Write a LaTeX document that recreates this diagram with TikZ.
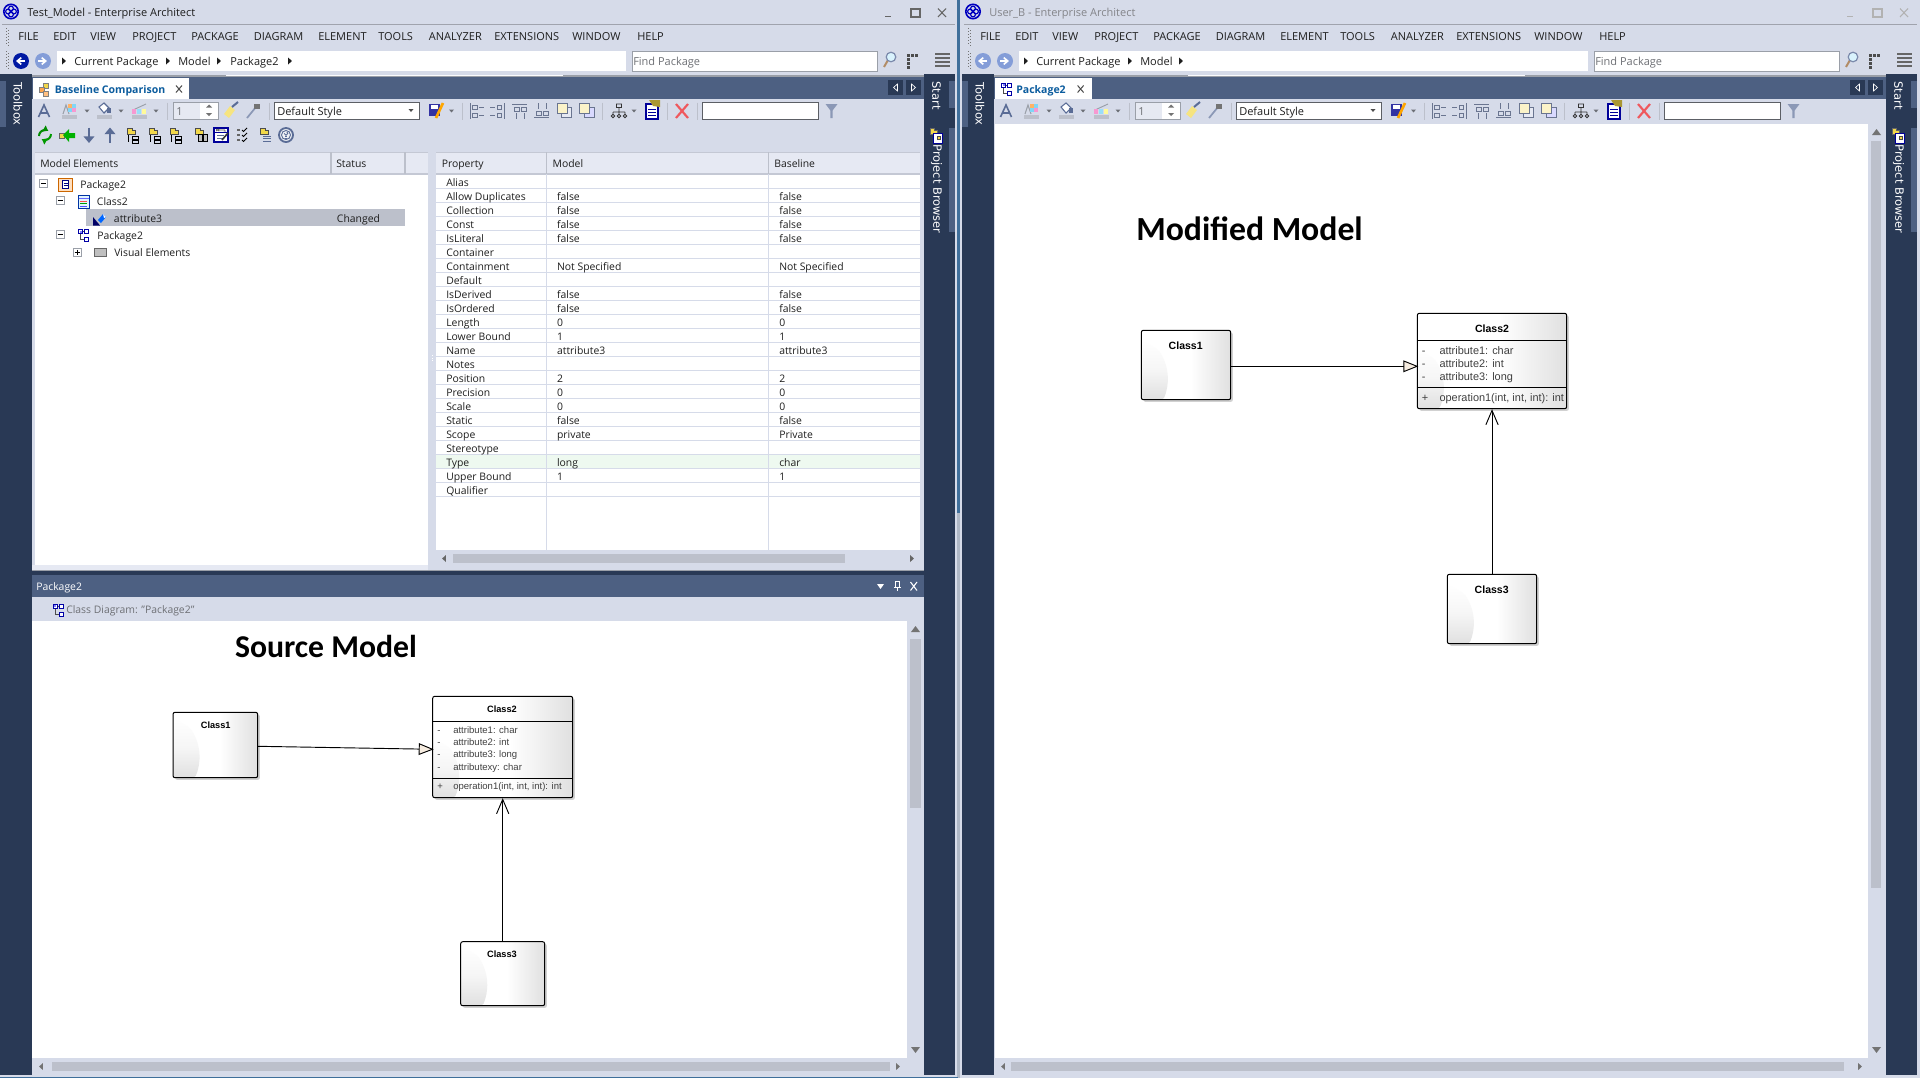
\documentclass[tikz,border=0pt]{standalone}
\usepackage{fontspec}
\setmainfont{Open Sans}
\newfontfamily\clsfont{Liberation Sans}
\newfontfamily\ttlfont{Carlito}
\newfontfamily\sidefont{DejaVu Sans}
\usetikzlibrary{calc,arrows.meta,shadows}
\definecolor{uibg}{HTML}{D6DBE9}
\definecolor{uidark}{HTML}{293955}
\definecolor{uitab}{HTML}{4D6082}
\definecolor{uihead}{HTML}{E6E9F3}
\definecolor{uisel}{HTML}{BCC0CB}
\definecolor{uiline}{HTML}{9A9FA8}
\definecolor{uitext}{HTML}{1E1E1E}
\definecolor{uigray}{HTML}{6E7075}
\definecolor{tabblue}{HTML}{0B5C9E}
\definecolor{iconblue}{HTML}{5A6C96}
\definecolor{icongray}{HTML}{6A7590}
\definecolor{boxgray}{HTML}{E0E0E0}
\definecolor{cream}{HTML}{F6ECE0}
\definecolor{typegreen}{HTML}{EEF9F0}
\definecolor{edgeblue}{HTML}{3F6F9B}
\definecolor{folderyel}{HTML}{F2D84A}
\newcount\tcnt
\newcommand\lbl[4][]{\global\advance\tcnt by 1
  \node[ui,anchor=base west,#1] (t\the\tcnt) at (#2,#3+4) {#4};}
\newcommand\clbl[4][]{\global\advance\tcnt by 1
  \node[anchor=center,inner sep=0pt,#1] (t\the\tcnt) at (#2,#3) {#4};}
\newcommand\ico[3]{\begin{scope}[shift={(#1,#2)}]#3\end{scope}}
% small arrows
\newcommand\tdown[2]{\fill[uiline!70!black] (#1-2.5,#2-1.5) -- (#1+2.5,#2-1.5) -- (#1,#2+1.5) -- cycle;}
\newcommand\tright[3][uitext]{\fill[#1] (#2-1.8,#3-3.5) -- (#2+1.8,#3) -- (#2-1.8,#3+3.5) -- cycle;}
\newcommand\tleft[3][uitext]{\fill[#1] (#2+1.8,#3-3.5) -- (#2-1.8,#3) -- (#2+1.8,#3+3.5) -- cycle;}
\newcommand\vsep[2]{\draw[uisel,line width=.75pt] (#1,#2-8.5) -- (#1,#2+8.5);}
% icons in local pixels
\newcommand\diagicon{%
  \draw[black!70,line width=.5pt] (-3,-4) -- (3,-4) (-3,-4) -- (-3,4) -- (3,4);
  \foreach \p/\q in {-5/-6,1/-6,1/2}{\draw[draw=blue!65!black,fill=white,line width=.6pt] (\p,\q) rectangle +(4,4);}
  \fill[blue!50] (-4,-5) rectangle +(2,2);}
\newcommand\folder{%
  \draw[black!70,fill=folderyel,line width=.4pt] (-4,-7) -- (1,-7) -- (1,-5) -- (4,-5) -- (4,-1) -- (-4,-1) -- cycle;}
\newcommand\plusbox[3]{%
  \draw[uiline,fill=white,line width=.5pt] (#1-4,#2-4) rectangle (#1+4,#2+4);
  \draw[black,line width=.5pt] (#1-2.5,#2) -- (#1+2.5,#2);
  \ifnum#3=1 \draw[black,line width=.5pt] (#1,#2-2.5) -- (#1,#2+2.5);\fi}
\newcommand\winctl[1]{%
  \draw[#1,line width=1pt] (885,16.5) -- (891,16.5);
  \draw[#1,line width=.9pt] (911,9) rectangle (920,17);
  \draw[#1,line width=.8pt] (938,8.5) -- (946,17) (946,8.5) -- (938,17);}
\newcommand\grip[2]{\foreach \g in {0,3,...,15}{\fill[black!55] (#1,#2+\g) rectangle +(1.2,1.2);\fill[black!55] (#1+2,#2+\g+1.5) rectangle +(1.2,1.2);}}
\newcommand\aligngl[1]{%
  \draw[icongray,line width=.6pt] #1;}
\newcommand\winbase{%
  % chrome lines
  \draw[uisel!85!black,line width=.75pt] (2,24) -- (955,24);
  \grip{6}{28}\grip{6}{51}
  \foreach \x/\t in {18/FILE,53/EDIT,90/VIEW,132/PROJECT,191/PACKAGE,253.5/DIAGRAM,318/ELEMENT,378/TOOLS,428.6/ANALYZER,494/EXTENSIONS,572/WINDOW,637/HELP}{\lbl[font=\uimenu]{\x}{36}{\t}}
  % address row
  \fill[white] (57,51) rectangle (626,71);
  \draw[uiline,fill=white,line width=.75pt] (632,51) rectangle (877,71);
  \lbl[text=uigray]{633}{61}{Find Package}
  \ico{889}{60}{\draw[orange!50!black!60,line width=1.5pt] (-5,7) -- (-1,0);\draw[iconblue!80,fill=cyan!15,line width=.9pt] (2,-3) circle (4.8);}
  \ico{912}{60}{\foreach \p/\q in {-5/-6,-1/-6,3/-6,-5/-2,-5/2,-5/6}{\fill[black!70] (\p,\q) rectangle +(2.6,2.6);}}
  \foreach \q in {54,58,62,66}{\fill[black!60] (935,\q-.8) rectangle (950,\q+1.4);}
  % dark strips
  \fill[uidark] (0,74) rectangle (32,1075);
  \fill[uidark] (924,74) rectangle (955,1075);
  \fill[uitab] (0,81) rectangle (6,127);
  \fill[uitab] (949,81) rectangle (955,108);
  \fill[uitab] (949,128) rectangle (955,232);
  \fill[uiline] (32,74.5) rectangle (924,77);
  \fill[white!90!uibg] (226,74.7) rectangle (563,75.7);
  \clbl[rotate=-90,font=\uiside,text=white]{18}{104}{Toolbox}
  \clbl[rotate=-90,font=\uiside,text=white]{936.5}{95.5}{Start}
  \clbl[rotate=-90,font=\uiside,text=white]{936.5}{189}{Project Browser}
  \ico{933}{131}{\draw[black!60,fill=folderyel,line width=.4pt] (-3,-3) -- (1,-3) -- (1,-1) -- (4,-1) -- (4,3) -- (-3,3) -- cycle;}
  \ico{938}{138}{\draw[blue!60!black,fill=white,line width=.6pt] (-4.5,-5) rectangle (4.5,5);\fill[black!70] (-1,-2) rectangle (3,2);\fill[folderyel] (0,-1) rectangle (2,1);}
  % tab bar
  \fill[uitab] (32,77) rectangle (924,99);
  \foreach \x in {888,906}{\fill[uidark] (\x,80) rectangle +(15,15);}
  \draw[white,line width=.5pt] (897.5,84) -- (893.5,87.5) -- (897.5,91) -- cycle;
  \draw[white,line width=.5pt] (911.5,84) -- (915.5,87.5) -- (911.5,91) -- cycle;
  % toolbar row one
  \draw[iconblue,line width=1.2pt] (38.5,117) -- (44,105) -- (49.5,117);\draw[iconblue,line width=.8pt] (40.5,113) -- (47.5,113);
  % font colour
  \draw[uiline,line width=.8pt] (63,114) -- (66,105) -- (69,114);
  \foreach \p/\q/\c in {68/104/orange!60,72/104/cyan!50,68/108/cyan!50,72/108/magenta!40}{\fill[\c] (\p,\q) rectangle +(3.6,3.6);}
  \fill[uisel] (62,115) rectangle (77,118.5);\tdown{87}{111}
  % fill colour
  \draw[iconblue,fill=white,line width=.8pt] (99,107) -- (104,103) -- (109,108) -- (104,113) -- cycle;
  \fill[iconblue] (107,108) rectangle (111,113);
  \fill[uisel] (97,115) rectangle (112,118.5);\tdown{121}{111}
  % line colour
  \draw[uiline,line width=.7pt] (133,110) -- (146,104);
  \foreach \p/\c in {132/magenta!40,137/cyan!40,142/yellow!40}{\fill[\c] (\p,109) rectangle +(4,5);}
  \fill[uisel] (132,115) rectangle (147,118.5);\tdown{156}{111}
  \vsep{167}{111}
  % spinner
  \draw[uiline,fill=uibg!60!white,line width=.6pt] (173,102) rectangle (218,119);
  \fill[white] (200,102.5) rectangle (217.6,118.5);
  \lbl[text=uigray]{176}{111}{1}
  \fill[black!55] (209,104.5) -- (212,107.5) -- (206,107.5) -- cycle;
  \fill[black!55] (209,116) -- (212,113) -- (206,113) -- cycle;
  % brush and dropper
  \fill[folderyel!70!white] (224,114) -- (230,106) -- (235,110) -- (229,118) -- cycle;
  \draw[iconblue,line width=1.5pt] (232,107) -- (238,102);
  \draw[iconblue!70,line width=1.3pt] (247,118) -- (256,107);
  \fill[black!55] (254,104) rectangle (260,109);
  \vsep{269}{111}
  \draw[uiline!60!black,fill=white,line width=.7pt] (274,102) rectangle (419,119);
  \lbl{277}{111.5}{Default Style}
  \fill[black!70] (408.5,109) -- (413.5,109) -- (411,112) -- cycle;
  % save
  \fill[blue!55!black!80] (429,104) rectangle (440,116);\fill[white] (431,105) rectangle (438,109);
  \draw[orange!70!yellow,line width=2pt] (436,118) -- (443,103);
  \tdown{451.5}{111}
  \vsep{462}{111}
  \aligngl{(470,103) -- (470,119) (472.5,105) rectangle (477,109.5) (472.5,113) rectangle (477,117.5) (479,107) -- (484,107) (479,115) -- (484,115)}
  \aligngl{(504,103) -- (504,119) (497,105) rectangle (501.5,109.5) (497,113) rectangle (501.5,117.5) (490,107) -- (495,107) (490,115) -- (495,115)}
  \aligngl{(512,104) -- (527,104) (514,107) rectangle (519,111) (521,107) rectangle (526,111) (516,113) -- (516,119) (524,113) -- (524,119)}
  \aligngl{(534,117.5) -- (549,117.5) (536,111) rectangle (541,115) (543,111) rectangle (548,115) (538,103) -- (538,109) (546,103) -- (546,109)}
  \draw[icongray,fill=uihead,line width=.7pt] (561,107) rectangle (571,117);
  \draw[icongray,fill=folderyel!30!white,line width=.7pt] (557,103) rectangle (567,113);
  \draw[icongray,fill=blue!15,line width=.7pt] (584,107) rectangle (594,117);
  \draw[icongray,fill=folderyel!30!white,line width=.7pt] (579,103) rectangle (589,113);
  \vsep{602}{111}
  \ico{619}{111}{\draw[black!80,line width=.7pt] (-2.5,-7) rectangle (2.5,-3.5) (0,-3.5) -- (0,1) (-6,1) -- (6,1) (-6,1) -- (-6,3) (0,1) -- (0,3) (6,1) -- (6,3) (-6,5) circle (1.8) (0,5) circle (1.8) (6,5) circle (1.8);}
  \tdown{634}{111}
  \draw[blue!60!black,fill=white,line width=.8pt] (646,104) rectangle (658,119);
  \foreach \q in {109,112,115}{\draw[blue!60!black,line width=.5pt] (648,\q) -- (656,\q);}
  \fill[folderyel!70!black] (649,100) -- (660,100) -- (660,107) -- (653,106) -- cycle;
  \vsep{667}{111}
  \draw[red!60!uibg,line width=1.6pt] (676,104) -- (688,118) (688,104) -- (676,118);
  \vsep{697}{111}
  \draw[uiline!60!black,fill=white,line width=.7pt] (702,102) rectangle (818,119);
  \fill[iconblue!70] (825.5,104) -- (837.5,104) -- (832.6,110.5) -- (832.6,118) -- (830.4,118) -- (830.4,110.5) -- cycle;
}
\tikzset{
  x=.75pt,y=-.75pt,
  ui/.style={inner sep=0pt,text=uitext,font=\uifont},
  nameL/.style={font=\clsfont\bfseries\fontsize{6.9}{8}\selectfont,text=black},
  nameR/.style={font=\clsfont\bfseries\fontsize{7.9}{9}\selectfont,text=black},
  attrL/.style={anchor=base west,font=\clsfont\fontsize{7.15}{8}\selectfont,text=black!75},
  attrR/.style={anchor=base west,font=\clsfont\fontsize{8.2}{9}\selectfont,text=black!75},
  cbox/.style 2 args={draw=black,line width=.75pt,rounded corners=1.5pt,fill=white,inner sep=0pt,
    minimum width=#1*.75pt,minimum height=#2*.75pt,
    drop shadow={shadow xshift=1.6pt,shadow yshift=-1.6pt,opacity=.18,fill=black},
    path picture={
      \coordinate (sw) at (path picture bounding box.south west);
      \shade[left color=white,right color=boxgray] ($(sw)+(.55*#1,0)$) rectangle (path picture bounding box.north east);
      \shade[top color=white,bottom color=boxgray,middle color=white!70!boxgray]
        ($(sw)+(22,0)$) .. controls ($(sw)+(28,-14)$) and ($(sw)+(29,-32)$) .. ($(sw)+(17,-50)$)
        -- ($(sw)+(0,-60)$) -- (sw) -- cycle;
    }},
  genline/.style={draw=black,line width=.7pt,-{Triangle[open,fill=cream,length=11.2pt,width=8.8pt]}},
  assocline/.style={draw=black,line width=.7pt,-{Straight Barb[length=10.8pt,width=9.2pt,line width=.7pt]}}
}
\newcommand\uifont{\fontsize{8.25}{10}\selectfont}
\newcommand\uimenu{\fontsize{8.25}{10}\selectfont}
\newcommand\uiside{\sidefont\fontsize{8.6}{10}\selectfont}
\begin{document}
\begin{tikzpicture}
\useasboundingbox (0,0) rectangle (1920,1078);
\fill[uibg] (0,0) rectangle (1920,1078);
% ---------- divider between the windows
\fill[edgeblue] (957,0) rectangle (960,513);
\fill[uisel!90!edgeblue] (957,513) rectangle (960,1078);
% ---------- left window
\winbase
\ico{11}{11.5}{\draw[blue!75!black,line width=1.2pt] (0,0) circle (7.2);\foreach \a in {0,90,180,270}{\draw[blue!75!black,line width=.9pt] (\a:3) circle (2.4);}}
\lbl{27}{12}{Test\_Model - Enterprise Architect}
\winctl{black!60}
\fill[blue!60!black!90!cyan] (21,61) circle (8);\draw[white,line width=1.2pt,-{Straight Barb[length=3pt,width=5pt]}] (25,61) -- (16,61);
\fill[cyan!40!blue!50!white] (43,61) circle (8);\draw[white,line width=1.2pt,-{Straight Barb[length=3pt,width=5pt]}] (38,61) -- (47,61);
\tright{64}{61}\lbl{74}{61}{Current Package}\tright{168}{61}\lbl{178}{61}{Model}\tright{219}{61}\lbl{230}{61}{Package2}\tright{290}{61}
% tab
\fill[white] (33,78) rectangle (189,99);
\ico{44}{89}{\draw[black!50,fill=folderyel,line width=.4pt] (-1,-6) rectangle (4,-1);\draw[black!50,fill=orange!70,line width=.4pt] (-5,-2) rectangle (0,3);\draw[black!50,fill=orange!50,line width=.4pt] (-1,2) rectangle (4,7);}
\lbl[text=tabblue,font=\uifont\bfseries\fontsize{7.9}{10}\selectfont]{54.5}{89}{Baseline Comparison}
\draw[black!70,line width=.75pt] (176,85.5) -- (182,92.5) (182,85.5) -- (176,92.5);
% toolbar row two
\ico{45}{135}{\draw[green!55!black,line width=1.5pt,-{Triangle[length=3.5pt,width=5pt]}] (-6,1) arc (180:300:6);\draw[green!60!black,line width=1.5pt,-{Triangle[length=3.5pt,width=5pt]}] (6,-1) arc (0:120:6);}
\ico{67}{135}{\draw[black!60,fill=folderyel,line width=.4pt] (-8,-2) rectangle (-3,3);\fill[green!70!black] (-4,0) -- (2,-6) -- (2,-2) -- (8,-2) -- (8,3) -- (2,3) -- (2,7) -- cycle;}
\draw[iconblue,line width=2pt,-{Triangle[length=5pt,width=8pt]}] (89,127.5) -- (89,143);
\draw[iconblue,line width=2pt,-{Triangle[length=5pt,width=8pt]}] (110,143) -- (110,127.5);
\foreach \x in {131,153,174}{\ico{\x}{135}{\folder\draw[black,line width=.7pt] (-3,0) -- (-3,7);\draw[black,line width=.7pt] (1,1) rectangle (7,4) (1,5) rectangle (7,8);}}
\ico{199}{135}{\folder\draw[black,fill=black!25,line width=.7pt] (-1,-1) rectangle (3,6) (4,-1) rectangle (8,6);}
\ico{221}{135}{\draw[blue!60!black,fill=white,line width=.8pt] (-7,-7) rectangle (7,7);\draw[blue!60!black,line width=.5pt] (-7,-3) -- (7,-3);\draw[black!70,line width=.5pt] (-5,-6) -- (-2,-4) (-5,-4) -- (-2,-6) (-1,-6) -- (-1,-4) (1,-6) -- (1,-4) (3,-6) -- (3,-4) -- (5,-4);\draw[iconblue,line width=.5pt] (-4,0) -- (3,0) (-4,3) -- (3,3);\draw[black!80,line width=1.2pt] (1,5) -- (7,-2);}
\ico{242}{135}{\foreach \q in {-6,-1,4}{\fill[black!60] (-5,\q) rectangle +(3,2);\draw[black,line width=.7pt] (0,\q+1) -- (1.5,\q+2.5) -- (5,\q-1);}}
\ico{264}{135}{\folder\foreach \q in {1,3.5,6}{\draw[iconblue,line width=.7pt] (-1,\q) -- (7,\q);}}
\ico{286}{135}{\draw[iconblue,fill=white!60!uibg,line width=1.4pt] (0,0) circle (7);\draw[iconblue,line width=.7pt] (0,0) circle (4.5);\fill[iconblue] (-.7,1) rectangle (.7,2.4);\fill[iconblue] (-.7,3) rectangle (.7,4);\draw[iconblue,line width=.7pt] (-1.8,-1.5) arc (180:-60:1.8);}
% left lists
\renewcommand\uifont{\fontsize{7.8}{10}\selectfont}
\fill[white] (35,174) rectangle (428,565);
\fill[uihead] (35,152) rectangle (428,174);
\fill[uihead] (32,565) rectangle (428,570);
\fill[uisel!70!uibg] (35,173.2) rectangle (428,174.5);
\fill[uisel!70!uibg] (35,151.5) rectangle (428,152.5);
\draw[uisel,line width=1pt] (331,152) -- (331,174) (405,152) -- (405,174);
\lbl{40}{163}{Model Elements}
\lbl{336}{163}{Status}
\foreach \q in {0,2.5,5}{\fill[white] (432,355+\q) rectangle +(1.4,1.4);}
% tree
\plusbox{43.6}{183.5}{0}
\ico{65.6}{184.5}{\draw[orange!80!black,fill=orange!25,line width=.7pt] (-7,-6.5) rectangle (7,6.5);\draw[blue!50!black,fill=white,line width=.5pt] (-3,-4) rectangle (3,4);\draw[blue!50!black,line width=.4pt] (-2,-1.5) -- (2,-1.5) (-2,1) -- (2,1);}
\lbl{80}{184}{Package2}
\plusbox{60}{200.5}{0}
\ico{83.5}{201.5}{\draw[blue!55!black!80!cyan,fill=cyan!12,line width=.7pt] (-5.5,-6.5) rectangle (5.5,6.5);\draw[blue!60,line width=.6pt] (-5,-3) -- (5,-3);\foreach \q/\c in {-.5/red!70,2/green!60!black,4.5/blue!70}{\draw[\c,line width=.6pt] (-3.5,\q) -- (3.5,\q);}}
\lbl{96.7}{201}{Class2}
\fill[uisel] (86,209) rectangle (405,226);
\ico{100}{220}{\fill[blue!40!black] (-7,-3) -- (0,5.5) -- (-7,5.5) -- cycle;\fill[blue!60!cyan] (-2,0) -- (3,-6) -- (6,-3) -- (1,3) -- cycle;\fill[white] (3,-6) -- (6,-3) -- (4,-2) -- cycle;}
\lbl{113.7}{218}{attribute3}
\lbl{336.7}{218}{Changed}
\plusbox{60}{234.5}{0}
\ico{83.5}{235.5}{\diagicon}
\lbl{97}{235}{Package2}
\plusbox{77}{252}{1}
\ico{100}{252}{\draw[black!60,fill=black!25,line width=.6pt] (-6,-4) rectangle (6,4);}
\lbl{114}{252}{Visual Elements}
% right grid
\fill[white] (436,174) rectangle (920,550);
\fill[uihead] (436,152) rectangle (920,174);
\fill[uisel!70!uibg] (436,173.2) rectangle (920,174.5);
\fill[uisel!70!uibg] (436,151.5) rectangle (920,152.5);
\fill[typegreen] (436,454) rectangle (920,468);
\foreach \i in {0,...,22}{\draw[uibg,line width=.75pt] (436,188.3+14*\i) -- (920,188.3+14*\i);}
\draw[uibg,line width=.75pt] (546.6,174) -- (546.6,550) (768.7,174) -- (768.7,550);
\draw[uisel,line width=1.1pt] (546.6,152) -- (546.6,174) (768.7,152) -- (768.7,174);
\lbl{441.5}{163}{Property}\lbl{552.4}{163}{Model}\lbl{774}{163}{Baseline}
\foreach \i/\t in {0/Alias,1/Allow Duplicates,2/Collection,3/Const,4/IsLiteral,5/Container,6/Containment,7/Default,8/IsDerived,9/IsOrdered,10/Length,11/Lower Bound,12/Name,13/Notes,14/Position,15/Precision,16/Scale,17/Static,18/Scope,19/Stereotype,20/Type,21/Upper Bound,22/Qualifier}{\lbl{446}{182.5+14*\i}{\t}}
\foreach \i/\m/\b in {1/false/false,2/false/false,3/false/false,4/false/false,6/Not Specified/Not Specified,8/false/false,9/false/false,10/0/0,11/1/1,12/attribute3/attribute3,14/2/2,15/0/0,16/0/0,17/false/false,18/private/Private,20/long/char,21/1/1}{\lbl{556.8}{182.5+14*\i}{\m}\lbl{779}{182.5+14*\i}{\b}}
\fill[uisel] (453,554) rectangle (845,563);
\tleft[black!60]{444}{558.5}\tright[black!60]{912}{558.5}
\fill[uiline] (32,570) rectangle (924,571.2);
\fill[uidark] (32,571.2) rectangle (924,575);
% lower panel
\fill[uitab] (32,575) rectangle (924,597);
\lbl[text=white]{36}{586}{Package2}
\fill[white] (877,584) -- (884,584) -- (880.5,589) -- cycle;
\draw[white,line width=.7pt] (895.5,581) rectangle (899.5,587) (894,587) -- (901,587) (897.5,587) -- (897.5,591);
\draw[white,line width=.8pt] (910.5,582) -- (917,590.5) (917,582) -- (910.5,590.5);
\ico{58}{610}{\diagicon}
\lbl[text=uigray]{66}{609.5}{Class Diagram: "Package2"}
\renewcommand\uifont{\fontsize{8.25}{10}\selectfont}
\fill[white] (32,621) rectangle (907,1058);
\fill[black!55] (911,632) -- (920,632) -- (915.5,626) -- cycle;
\fill[uisel] (910,639) rectangle (921,808);
\fill[black!55] (911,1047) -- (920,1047) -- (915.5,1053) -- cycle;
\fill[uisel] (52,1062) rectangle (890,1071);
\tleft[black!55]{41}{1066.5}\tright[black!55]{898}{1066.5}
\fill[edgeblue] (0,1076.6) rectangle (958,1078);
% left diagram
\clbl[font=\ttlfont\bfseries\fontsize{23.8}{28}\selectfont,text=black]{326}{646.5}{Source Model}
\node[cbox={84.7}{65.4}] (la) at (215.35,745) {};
\node[cbox={140}{101.4}] (lb) at (502.7,747) {};
\node[cbox={84}{64}] (lc) at (502.7,973.7) {};
\clbl[nameL]{215.7}{725.3}{Class1}
\clbl[nameL]{502}{709.3}{Class2}
\clbl[nameL]{502}{954.3}{Class3}
\draw[black,line width=.75pt] (432.7,721.7) -- (572.7,721.7) (432.7,778.3) -- (572.7,778.3);
\foreach \y/\s/\t in {733.5/-/attribute1: char,745.5/-/attribute2: int,757.8/-/attribute3: long,770.5/-/attributexy: char,789.5/+/{operation1(int, int, int): int}}{
  \global\advance\tcnt by 1 \node[attrL,inner sep=0pt] (t\the\tcnt) at (437,\y) {\s};
  \global\advance\tcnt by 1 \node[attrL,inner sep=0pt] (t\the\tcnt) at (453,\y) {\t};}
\draw[genline] ($(la.east)+(0,1.3)$) -- ($(lb.west)+(1.5,2.3)$);
\draw[assocline] (lc.north) -- (lb.south);
% ---------- right window
\begin{scope}[shift={(962,0)}]
\winbase
\ico{11}{11.5}{\draw[blue!75!black,line width=1.2pt] (0,0) circle (7.2);\foreach \a in {0,90,180,270}{\draw[blue!75!black,line width=.9pt] (\a:3) circle (2.4);}}
\lbl[text=uigray!85!white]{27}{12}{User\_B - Enterprise Architect}
\winctl{black!30}
\fill[cyan!40!blue!50!white] (21,61) circle (8);\draw[white,line width=1.2pt,-{Straight Barb[length=3pt,width=5pt]}] (25,61) -- (16,61);
\fill[cyan!40!blue!50!white] (43,61) circle (8);\draw[white,line width=1.2pt,-{Straight Barb[length=3pt,width=5pt]}] (38,61) -- (47,61);
\tright{64}{61}\lbl{74}{61}{Current Package}\tright{168}{61}\lbl{178}{61}{Model}\tright{219}{61}
\fill[white] (33,78) rectangle (130,99);
\ico{44.5}{89}{\diagicon}
\lbl[text=tabblue,font=\uifont\bfseries\fontsize{7.9}{10}\selectfont]{54}{89}{Package2}
\draw[black!70,line width=.75pt] (115.6,85.5) -- (121.6,92.5) (121.6,85.5) -- (115.6,92.5);
\fill[white] (33,124) rectangle (906,1058);
\fill[black!55] (910,135) -- (919,135) -- (914.5,129) -- cycle;
\fill[uisel] (909,141) rectangle (919,888);
\fill[black!55] (910,1047) -- (919,1047) -- (914.5,1053) -- cycle;
\fill[uisel] (49,1062) rectangle (882,1071);
\tleft[black!55]{41}{1066.5}\tright[black!55]{898}{1066.5}
\end{scope}
% right diagram
\clbl[font=\ttlfont\bfseries\fontsize{25.3}{30}\selectfont,text=black]{1249.5}{229}{Modified Model}
\node[cbox={89.4}{69.4}] (ra) at (1186,365) {};
\node[cbox={149.4}{95.4}] (rb) at (1492,361) {};
\node[cbox={89.4}{69.4}] (rc) at (1492,609) {};
\clbl[nameR]{1185.7}{345.7}{Class1}
\clbl[nameR]{1492}{328.3}{Class2}
\clbl[nameR]{1491.7}{589.3}{Class3}
\draw[black,line width=.75pt] (1417.3,340.7) -- (1566.7,340.7) (1417.3,387.3) -- (1566.7,387.3);
\foreach \y/\s/\t in {354.2/-/attribute1: char,367.2/-/attribute2: int,380.2/-/attribute3: long,401.2/+/{operation1(int, int, int): int}}{
  \global\advance\tcnt by 1 \node[attrR,inner sep=0pt] (t\the\tcnt) at (1421.5,\y) {\s};
  \global\advance\tcnt by 1 \node[attrR,inner sep=0pt] (t\the\tcnt) at (1439.3,\y) {\t};}
\coordinate (ray) at (0,366.3);
\draw[genline] (ra.east |- ray) -- ($(rb.west |- ray)+(1.5,0)$);
\draw[assocline] (rc.north) -- (rb.south);
\end{tikzpicture}
\end{document}
